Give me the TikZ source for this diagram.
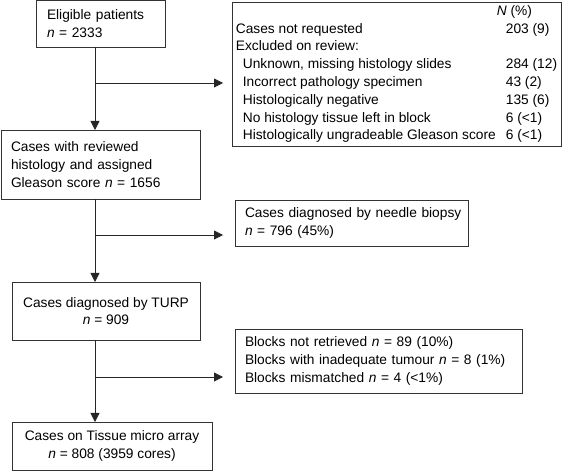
\documentclass[tikz,border=0pt]{standalone}
\usepackage{fontspec}
\setmainfont{Liberation Sans}
\usetikzlibrary{arrows.meta}
\begin{document}
\begin{tikzpicture}[x=1pt,y=-1pt,
  every node/.style={font=\fontsize{13.75}{17.8}\selectfont},
  box/.style={draw=black!80,line width=0.8pt,inner sep=0pt,outer sep=0pt},
  arr/.style={draw=black!85,line width=0.8pt,-{Triangle[length=9pt,width=9pt]}}]
\useasboundingbox (0,0) rectangle (566,473);
% main boxes
\node[box,minimum width=129pt,minimum height=47pt,text width=107pt,align=left] (b1) at (100.5,23.5)
  {\mbox{Eligible patients}\\\mbox{\textit{n} = 2333}};
\node[box,minimum width=199pt,minimum height=69pt,text width=179pt,align=left] (b2) at (100.5,164.5)
  {\mbox{Cases with reviewed}\\\mbox{histology and assigned}\\\mbox{Gleason score \textit{n} = 1656}};
\node[box,minimum width=188pt,minimum height=58pt,align=center] (b4) at (106,311)
  {Cases diagnosed by TURP\\\textit{n} = 909};
\node[box,minimum width=200pt,minimum height=48pt,align=center] (b6) at (112,446)
  {Cases on Tissue micro array\\\textit{n} = 808 (3959 cores)};
% side boxes
\node[box,minimum width=329pt,minimum height=144pt] (ex) at (396.5,74)
  {\begin{tabular}{@{}p{270pt}@{}l@{}}
   & \hspace*{-9pt}\textit{N} (\%)\\
   Cases not requested & 203 (9)\\
   Excluded on review: & \\
   \hspace*{7pt}Unknown, missing histology slides & 284 (12)\\
   \hspace*{7pt}Incorrect pathology specimen & 43 (2)\\
   \hspace*{7pt}Histologically negative & 135 (6)\\
   \hspace*{7pt}No histology tissue left in block & 6 (<1)\\
   \hspace*{7pt}Histologically ungradeable Gleason score & 6 (<1)
   \end{tabular}};
\node[box,minimum width=233pt,minimum height=46pt,text width=213pt,align=left] (b3) at (351.5,223)
  {\mbox{Cases diagnosed by needle biopsy}\\\mbox{\textit{n} = 796 (45\%)}};
\node[box,minimum width=287pt,minimum height=64pt,text width=267pt,align=left] (b5) at (378.5,361)
  {\mbox{Blocks not retrieved \textit{n} = 89 (10\%)}\\\mbox{Blocks with inadequate tumour \textit{n} = 8 (1\%)}\\\mbox{Blocks mismatched \textit{n} = 4 (<1\%)}};
% junctions
\coordinate (j1) at (95,83);
\coordinate (j2) at (95,235);
\coordinate (j3) at (95,377);
% connectors
\draw[arr] (b1.south -| j1) -- (b2.north -| j1);
\draw[arr,shorten >=9pt] (j1) -- (ex.west |- j1);
\draw[arr] (b2.south -| j2) -- (b4.north -| j2);
\draw[arr,shorten >=12pt] (j2) -- (b3.west |- j2);
\draw[arr] (b4.south -| j3) -- (b6.north -| j3);
\draw[arr,shorten >=12pt] (j3) -- (b5.west |- j3);
\end{tikzpicture}
\end{document}
